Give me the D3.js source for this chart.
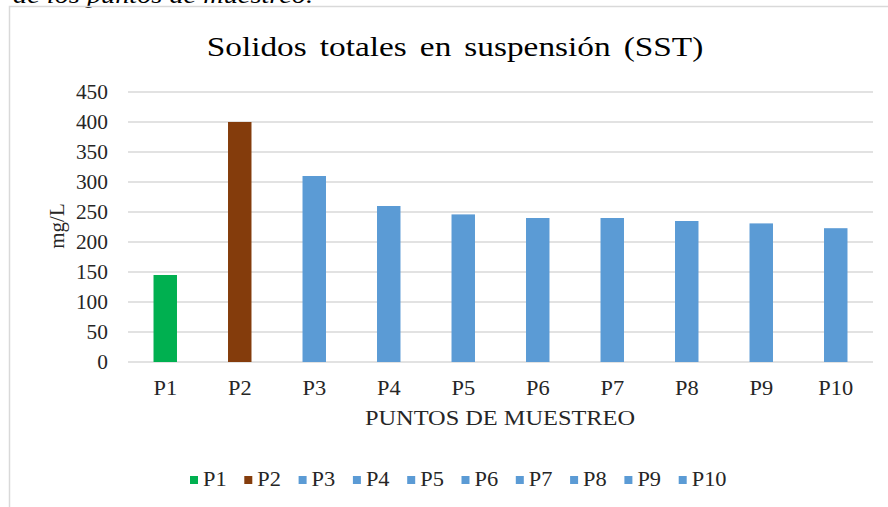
<!DOCTYPE html>
<html>
<head>
<meta charset="utf-8">
<script src="https://cdn.jsdelivr.net/npm/d3@7/dist/d3.min.js"></script>
<style>
  html, body { margin: 0; padding: 0; background: #fff; }
  svg { display: block; }
</style>
</head>
<body>
<svg id="chart"></svg>
<script>
// --- data ---
const puntos = ['P1', 'P2', 'P3', 'P4', 'P5', 'P6', 'P7', 'P8', 'P9', 'P10'];
const sst = [145, 400, 310, 260, 246, 240, 240, 235, 231, 223];
const barColours = ['#00b050', '#843c0c', '#5b9bd5', '#5b9bd5', '#5b9bd5',
                    '#5b9bd5', '#5b9bd5', '#5b9bd5', '#5b9bd5', '#5b9bd5'];
const yTicks = [0, 50, 100, 150, 200, 250, 300, 350, 400, 450];

const W = 888, H = 507;
const plot = { left: 128, right: 873, top: 92, bottom: 362 };
const SERIF = "'Liberation Serif', 'DejaVu Serif', serif";
// the source image is a little stretched sideways
const STRETCH = 1.12;

const svg = d3.select('#chart').attr('width', W).attr('height', H)
  .style('font-family', SERIF);

// helper: text placed at (x,y) and widened horizontally
function stretched(sel, sx) {
  return sel.attr('transform', d => `scale(${sx},1)`);
}

// cut-off caption line from the document above the chart
svg.append('text')
  .attr('transform', 'translate(13,3) scale(1.18,1)')
  .attr('font-family', SERIF)
  .attr('font-size', 24)
  .attr('font-style', 'italic')
  .attr('fill', '#000')
  .text('de los puntos de muestreo.');

// chart frame
svg.append('rect')
  .attr('x', 9.5).attr('y', 6.5)
  .attr('width', W + 20).attr('height', H + 20)
  .attr('fill', 'none')
  .attr('stroke', '#d9d9d9')
  .attr('stroke-width', 1.5);

const x = d3.scaleBand()
  .domain(puntos)
  .range([plot.left, plot.right])
  .paddingInner(0.685)
  .paddingOuter(0.3425);

const y = d3.scaleLinear()
  .domain([0, 450])
  .range([plot.bottom, plot.top]);

// gridlines
svg.append('g')
  .selectAll('line')
  .data(yTicks)
  .join('line')
  .attr('x1', plot.left).attr('x2', plot.right)
  .attr('y1', d => y(d)).attr('y2', d => y(d))
  .attr('stroke', '#d9d9d9')
  .attr('stroke-width', 1.5);

// y tick labels
svg.append('g')
  .selectAll('text')
  .data(yTicks)
  .join('text')
  .attr('transform', d => `translate(108,${y(d)}) scale(1.07,1)`)
  .attr('dy', '0.35em')
  .attr('text-anchor', 'end')
  .attr('font-family', SERIF)
  .attr('font-size', 20)
  .attr('fill', '#262626')
  .text(d => d);

// bars
svg.append('g')
  .selectAll('rect')
  .data(puntos)
  .join('rect')
  .attr('x', d => x(d))
  .attr('y', (d, i) => y(sst[i]))
  .attr('width', x.bandwidth())
  .attr('height', (d, i) => y(0) - y(sst[i]))
  .attr('fill', (d, i) => barColours[i]);

// x tick labels
svg.append('g')
  .selectAll('text')
  .data(puntos)
  .join('text')
  .attr('transform', d => `translate(${x(d) + x.bandwidth() / 2},395) scale(${STRETCH},1)`)
  .attr('text-anchor', 'middle')
  .attr('font-family', SERIF)
  .attr('font-size', 20)
  .attr('fill', '#262626')
  .text(d => d);

// title
svg.append('text')
  .attr('transform', 'translate(455,56) scale(1.19,1)')
  .attr('text-anchor', 'middle')
  .attr('font-family', SERIF)
  .attr('font-size', 28)
  .attr('fill', '#000')
  .attr('word-spacing', 4)
  .text('Solidos totales en suspensión (SST)');

// axis titles
svg.append('text')
  .attr('transform', 'translate(500,425) scale(1.16,1)')
  .attr('text-anchor', 'middle')
  .attr('font-family', SERIF)
  .attr('font-size', 21)
  .attr('fill', '#262626')
  .text('PUNTOS DE MUESTREO');

svg.append('text')
  .attr('transform', 'translate(64,226) rotate(-90)')
  .attr('text-anchor', 'middle')
  .attr('font-family', SERIF)
  .attr('font-size', 21)
  .attr('fill', '#262626')
  .text('mg/L');

// legend
const lx = d3.scaleBand()
  .domain(puntos)
  .range([190, 190 + 54.3 * puntos.length]);

const legend = svg.append('g')
  .selectAll('g')
  .data(puntos)
  .join('g')
  .attr('transform', d => `translate(${lx(d)},0)`);

legend.append('rect')
  .attr('x', 0).attr('y', 476)
  .attr('width', 8).attr('height', 8)
  .attr('fill', (d, i) => barColours[i]);

legend.append('text')
  .attr('transform', `translate(13,486) scale(${STRETCH},1)`)
  .attr('font-family', SERIF)
  .attr('font-size', 20)
  .attr('fill', '#262626')
  .text(d => d);
</script>
</body>
</html>
